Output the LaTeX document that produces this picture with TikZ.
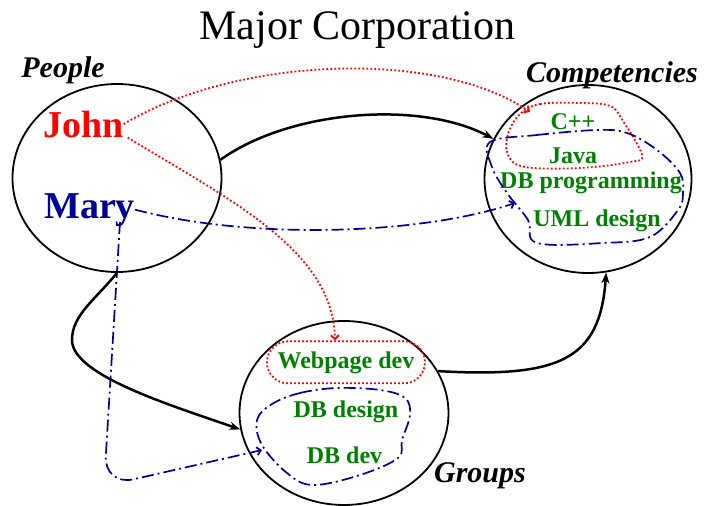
\documentclass[tikz,border=0pt]{standalone}
\usepackage{fontspec}
\setmainfont{Liberation Serif}
\usepackage{tikz}
\usetikzlibrary{shapes.geometric,arrows.meta,positioning,calc}

\definecolor{darkgreen}{RGB}{0,128,0}
\definecolor{navy}{RGB}{0,0,153}

\tikzset{
  setbox/.style={ellipse, draw, line width=1.8pt, inner sep=0pt, minimum width=209pt, minimum height=188pt},
  member/.style={font=\fontsize{24}{24}\bfseries\selectfont, inner sep=0pt, text=darkgreen},
  tag/.style={font=\fontsize{30}{30}\bfseries\itshape\selectfont, inner sep=0pt},
  person/.style={font=\fontsize{38}{38}\bfseries\selectfont, inner sep=0pt},
  dotline/.style={red, line width=1.8pt, dash pattern=on 1.8pt off 2.2pt},
  dashdotline/.style={navy, line width=1.7pt, dash pattern=on 12pt off 4pt on 2pt off 4pt},
  link/.style={line width=2.5pt, -{Stealth[length=11pt,width=8pt]}},
  redlink/.style={dotline, -{Straight Barb[length=4pt,width=8pt]}},
  bluelink/.style={dashdotline, -{Straight Barb[length=4pt,width=8pt]}},
}

\begin{document}
\begin{tikzpicture}[x=1pt,y=-1pt]
    \useasboundingbox (0,0) rectangle (705,506);

    % Title
    \node[font=\fontsize{42}{42}\selectfont, inner sep=0pt, anchor=base] (title) at (357.5,39) {Major Corporation};

    % The three sets
    \node[setbox] (people) at (117,178) {};
    \node[setbox, minimum width=207pt] (comp) at (588,179) {};
    \node[setbox, minimum height=184pt] (groups) at (344,413) {};

    \node[tag, anchor=base] (peoplelbl) at (63,77) {People};
    \node[tag, anchor=base] (complbl) at (612,82) {Competencies};
    \node[tag, anchor=base] (groupslbl) at (480,482) {Groups};

    % People
    \node[person, red, anchor=base west] (john) at (43,137) {John};
    \node[person, navy, anchor=base west] (mary) at (44,218) {Mary};

    % Competencies
    \node[member, anchor=base] (cpp) at (573,129) {C++};
    \node[member, anchor=base] (java) at (573,163) {Java};
    \node[member, anchor=base] (dbprog) at (591,188) {DB programming};
    \node[member, anchor=base] (uml) at (597,226) {UML design};

    % Groups
    \node[member, anchor=base, draw=red, dotline, text=darkgreen, rounded corners=21pt,
          minimum width=158pt, minimum height=42pt] (webdev) at (346,368) {Webpage dev};
    \node[member, anchor=base] (dbdesign) at (346,417) {DB design};
    \node[member, anchor=base] (dbdev) at (344.5,463) {DB dev};

    % skill regions
    \draw[dotline] plot[smooth cycle, tension=0.6] coordinates {
        (520,114) (540,104) (580,103) (610,106) (623,121) (642,155)
        (630,162) (580,168) (525,167) (508,155) (508,134)};
    \draw[dashdotline] plot[smooth cycle, tension=0.6] coordinates {
        (490,142) (537,135) (597,130) (627,133) (657,150) (680,173)
        (683,193) (678,210) (650,237) (603,243) (537,243) (528,220)
        (507,193) (492,167)};
    \draw[dashdotline] plot[smooth cycle, tension=0.6] coordinates {
        (272,404) (300,393) (337,388) (380,390) (405,398) (410,415)
        (402,440) (398,458) (360,475) (313,485) (287,473) (262,445)
        (257,420)};

    \coordinate (cppend) at (530,112);
    \coordinate (umlend) at (515,203);
    \coordinate (dbdevend) at (262,450);
    \coordinate (marytail) at (120,222);

    % links
    \draw[redlink] (john.east) .. controls (240,55) and (440,50) .. (cppend);
    \draw[redlink] ($(john.south east)+(4,0)$) .. controls (230,200) and (333,250) .. ($(webdev.north)+(-11,0)$);
    \draw[bluelink] (mary.east) .. controls (250,240) and (420,235) .. (umlend);
    \draw[bluelink, rounded corners=30pt] (marytail) -- (104,486) -- (dbdevend);

    \draw[link] (people.10) .. controls (290,110) and (420,100) .. (comp.157);
    \draw[link] (people.270) .. controls (95,300) and (72,315) .. (72,340)
        .. controls (72,375) and (170,405) .. (groups.189);
    \draw[link] (groups.24) .. controls (560,378) and (600,360) .. (comp.281);
\end{tikzpicture}
\end{document}
